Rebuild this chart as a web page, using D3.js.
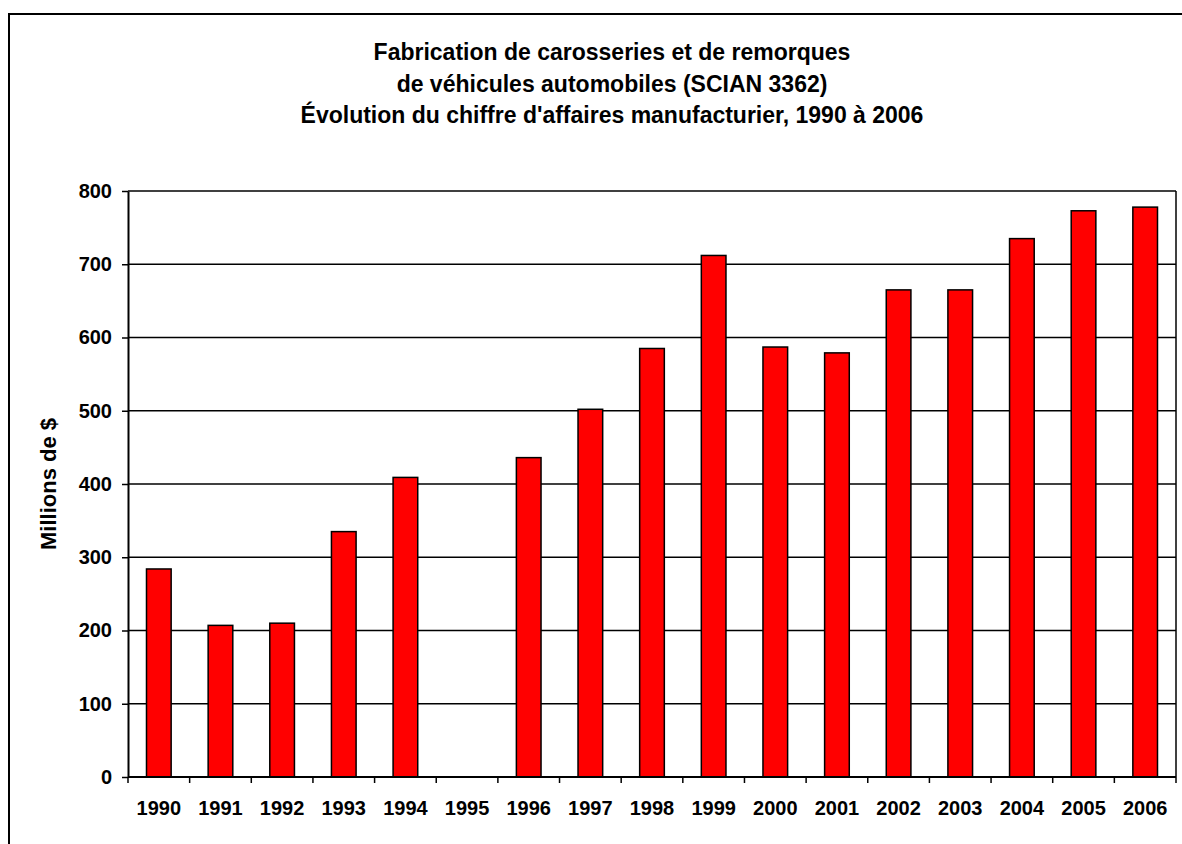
<!DOCTYPE html>
<html>
<head>
<meta charset="utf-8">
<script src="https://cdn.jsdelivr.net/npm/d3@7"></script>
<style>
  body { margin: 0; background: #fff; }
  svg { display: block; font-family: Arial, "Liberation Sans", sans-serif; }
</style>
</head>
<body>
<svg width="1182" height="844"></svg>
<script>
"use strict";

var years = ['1990', '1991', '1992', '1993', '1994', '1995', '1996', '1997', '1998',
    '1999', '2000', '2001', '2002', '2003', '2004', '2005', '2006'];
var sales = [284, 207, 210, 335, 409, null, 436, 502, 585, 712, 587, 579, 665, 665, 735, 773, 778];
var yTicks = [0, 100, 200, 300, 400, 500, 600, 700, 800];
var titleLines = [
    'Fabrication de carosseries et de remorques',
    'de véhicules automobiles (SCIAN 3362)',
    'Évolution du chiffre d\'affaires manufacturier, 1990 à 2006'
];
var yTitle = 'Millions de $';

var svg = d3.select('svg');
var margin = { left: 128, right: 1176, top: 191, bottom: 777 };

// outer frame (runs off the picture on the right and bottom)
svg.append('rect')
    .attr('x', 9).attr('y', 14)
    .attr('width', 1300).attr('height', 1000)
    .attr('fill', 'none')
    .attr('stroke', '#000')
    .attr('stroke-width', 2);

svg.append('g').selectAll('text')
    .data(titleLines)
    .enter().append('text')
    .attr('x', 612)
    .attr('y', (d, i) => 60 + i * 31.5)
    .attr('text-anchor', 'middle')
    .attr('font-size', 23)
    .attr('font-weight', 'bold')
    .text(d => d);

var x = d3.scaleBand()
    .domain(years)
    .range([margin.left, margin.right])
    .paddingInner(0.6)
    .paddingOuter(0.3);

var y = d3.scaleLinear()
    .domain([0, 800])
    .range([margin.bottom, margin.top]);

// gridlines
svg.append('g').selectAll('line')
    .data(yTicks.slice(1))
    .enter().append('line')
    .attr('x1', margin.left).attr('x2', margin.right)
    .attr('y1', d => y(d)).attr('y2', d => y(d))
    .attr('stroke', '#000')
    .attr('stroke-width', 1.5);

// right border of plot
svg.append('line')
    .attr('x1', margin.right).attr('x2', margin.right)
    .attr('y1', margin.top).attr('y2', margin.bottom)
    .attr('stroke', '#000')
    .attr('stroke-width', 1.5);

// bars
svg.append('g').selectAll('rect')
    .data(years.map((d, i) => ({ year: d, value: sales[i] })).filter(d => d.value != null))
    .enter().append('rect')
    .attr('x', d => x(d.year))
    .attr('y', d => y(d.value))
    .attr('width', x.bandwidth())
    .attr('height', d => y(0) - y(d.value))
    .attr('fill', '#ff0000')
    .attr('stroke', '#000')
    .attr('stroke-width', 1.5);

// y axis
var yAxis = svg.append('g')
    .attr('transform', `translate(${margin.left},0)`)
    .call(d3.axisLeft(y).tickValues(yTicks).tickSize(6).tickPadding(10).tickSizeOuter(0));
yAxis.select('.domain').attr('stroke-width', 2);
yAxis.selectAll('.tick line').attr('stroke-width', 1.5);
yAxis.selectAll('text')
    .attr('font-size', 20)
    .attr('font-weight', 'bold')
    .attr('font-family', 'Arial, "Liberation Sans", sans-serif')
    .attr('fill', '#000');

// x axis: ticks at band boundaries
var xAxis = svg.append('g')
    .attr('transform', `translate(0,${margin.bottom})`);
xAxis.append('line')
    .attr('x1', margin.left).attr('x2', margin.right)
    .attr('stroke', '#000')
    .attr('stroke-width', 2);
var step = x.step();
xAxis.selectAll('.tk')
    .data(d3.range(years.length + 1))
    .enter().append('line')
    .attr('class', 'tk')
    .attr('x1', i => margin.left + i * step)
    .attr('x2', i => margin.left + i * step)
    .attr('y1', 0).attr('y2', 6)
    .attr('stroke', '#000')
    .attr('stroke-width', 1.5);
xAxis.selectAll('text')
    .data(years)
    .enter().append('text')
    .attr('x', d => x(d) + x.bandwidth() / 2)
    .attr('y', 38)
    .attr('text-anchor', 'middle')
    .attr('font-size', 20)
    .attr('font-weight', 'bold')
    .text(d => d);

// y axis title
svg.append('text')
    .attr('transform', 'translate(56,484) rotate(-90)')
    .attr('text-anchor', 'middle')
    .attr('font-size', 22)
    .attr('font-weight', 'bold')
    .text(yTitle);
</script>
</body>
</html>
